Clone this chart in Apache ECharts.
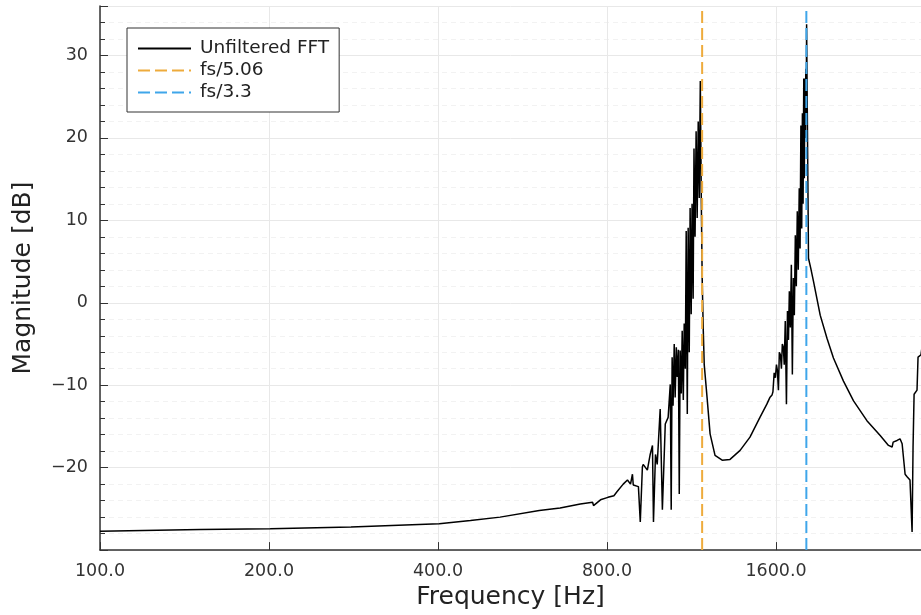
<!DOCTYPE html>
<html>
<head>
<meta charset="utf-8">
<script src="https://cdn.jsdelivr.net/npm/echarts@6.0.0/dist/echarts.min.js"></script>
<style>
  html, body { margin: 0; padding: 0; background: #fff; }
  #chart { width: 921px; height: 615px; }
</style>
</head>
<body>
<div id="chart"></div>
<script>
// spectrum (Hz, dB); each line of freqHz pairs with the same line of magDb
var freqHz = [
  100, 151, 201, 280, 402, 457, 516, 606, 660, 717, 754, 757,
  779, 803, 823, 834, 855, 870, 881, 888, 891, 910, 917, 925, 928, 944, 955, 964, 968, 976, 983, 995, 1004, 1016, 1028, 1037,
  1041, 1045, 1049, 1054, 1058, 1063, 1067, 1072, 1076, 1080, 1085, 1089, 1094, 1098, 1103, 1107, 1112, 1116, 1121, 1125, 1130, 1134, 1139, 1143, 1148, 1153, 1158, 1163, 1168, 1173, 1178,
  1182, 1187, 1192, 1206, 1221, 1246, 1283, 1325, 1381, 1438, 1498, 1541,
  1560, 1574, 1580, 1588, 1596, 1603, 1609, 1616, 1622, 1629, 1636, 1642, 1649, 1655, 1662, 1670, 1677, 1684, 1690, 1697, 1704, 1711, 1718, 1725, 1732, 1739, 1746, 1753, 1760, 1766, 1772, 1778, 1783, 1788, 1793, 1797, 1801, 1805, 1808, 1811, 1814,
  1828, 1845, 1866, 1918, 1972, 2025, 2110, 2199, 2323, 2453, 2538, 2576, 2587, 2629, 2661, 2684, 2717, 2739, 2772, 2796, 2807, 2819, 2853, 2865, 2900, 2930
];
var magDb = [
  -27.7, -27.5, -27.4, -27.2, -26.8, -26.4, -26.0, -25.2, -24.9, -24.4, -24.2, -24.6,
  -23.9, -23.6, -23.4, -22.9, -22.0, -21.5, -22.0, -20.8, -22.1, -22.3, -26.6, -19.9, -19.6, -20.3, -18.4, -17.3, -26.6, -18.4, -19.6, -12.9, -25.1, -14.7, -13.9, -9.9,
  -25.1, -6.6, -12.5, -5.0, -11.5, -5.4, -9.0, -5.7, -23.2, -5.8, -11.0, -3.4, -11.8, -2.5, -8.0, 8.7, -13.5, 9.1, -6.0, 11.5, -1.4, 12.0, 0.5, 18.7, 8.0, 20.8, 10.3, 22.0, 12.7, 26.9, 12.0,
  3.0, -3.0, -7.5, -11.5, -15.9, -18.5, -19.1, -19.0, -17.9, -16.3, -13.9, -12.3,
  -11.5, -11.2, -10.8, -8.5, -9.1, -7.5, -8.2, -10.6, -6.0, -6.3, -8.0, -5.0, -5.4, -7.5, -2.2, -12.3, -1.0, -4.5, 1.4, -3.0, 4.6, -8.7, 3.0, -1.5, 8.2, 2.0, 11.1, 4.0, 13.9, 6.6, 21.5, 9.0, 23.0, 12.0, 27.2, 15.1, 27.2, 20.0, 28.4, 22.0, 33.8,
  5.4, 4.2, 2.6, -1.5, -4.3, -6.7, -9.5, -11.9, -14.3, -16.1, -17.3, -17.5, -16.9, -16.7, -16.5, -17.1, -20.8, -21.1, -21.5, -27.8, -17.5, -11.1, -10.6, -6.6, -6.3, -4.0
];

// sampling rate and the two marker lines
var fs = 5980;
var markerDiv = [5.06, 3.3];
var markerNames = ['fs/5.06', 'fs/3.3'];
var markerColors = ['#eeab3c', '#3fa6ea'];

var fMin = 100, fMax = 2900;   // x range, ticks every octave from 100
var yMin = -30, yMax = 36;

var font = 'DejaVu Sans';
function u(f) { return Math.log2(f / fMin); }

var spectrum = freqHz.map(function (f, i) { return [u(f), magDb[i]]; });

var series = [{
  name: 'Unfiltered FFT',
  type: 'line',
  data: spectrum,
  symbol: 'none',
  lineStyle: { color: '#000', width: 1.5 },
  itemStyle: { color: '#000' },
  z: 3
}];
markerDiv.forEach(function (d, i) {
  var x = u(fs / d);
  series.push({
    name: markerNames[i],
    type: 'line',
    data: [[x, yMin], [x, 35.5]],
    symbol: 'none',
    lineStyle: { color: markerColors[i], width: 2, type: [12, 5] },
    itemStyle: { color: markerColors[i] },
    z: 4 + i
  });
});

var chart = echarts.init(document.getElementById('chart'));
chart.setOption({
  animation: false,
  backgroundColor: '#fff',
  textStyle: { fontFamily: font },
  grid: { left: 100, right: 0, top: 6, bottom: 58 },
  legend: {
    orient: 'vertical',
    left: 127,
    top: 28,
    data: ['Unfiltered FFT', 'fs/5.06', 'fs/3.3'],
    itemWidth: 53,
    itemHeight: 14,
    itemGap: 3,
    padding: [11, 10, 10, 10],
    borderColor: '#333',
    borderWidth: 1,
    backgroundColor: '#fff',
    itemStyle: { opacity: 0, borderWidth: 0 },
    textStyle: { fontFamily: font, fontSize: 18.5, color: '#222', padding: [0, 0, 0, 4] }
  },
  xAxis: {
    type: 'value',
    min: 0,
    max: u(fMax),
    interval: 1,
    name: 'Frequency [Hz]',
    nameLocation: 'middle',
    nameGap: 34,
    nameTextStyle: { fontFamily: font, fontSize: 25, color: '#222' },
    axisLine: { onZero: false, lineStyle: { color: '#333', width: 1.5 } },
    axisTick: { inside: true, length: 8, lineStyle: { color: '#333' } },
    axisLabel: {
      showMaxLabel: false,
      margin: 12,
      fontFamily: font,
      fontSize: 17.5,
      color: '#333',
      formatter: function (v) { return (fMin * Math.pow(2, v)).toFixed(1); }
    },
    splitLine: { show: true, lineStyle: { color: '#e8e8e8', width: 1 } }
  },
  yAxis: {
    type: 'value',
    min: yMin,
    max: yMax,
    interval: 10,
    name: 'Magnitude [dB]',
    nameLocation: 'middle',
    nameGap: 64,
    nameTextStyle: { fontFamily: font, fontSize: 25, color: '#222' },
    axisLine: { show: true, onZero: false, lineStyle: { color: '#333', width: 1.5 } },
    axisTick: { inside: true, length: 8, lineStyle: { color: '#333' } },
    minorTick: { show: true, splitNumber: 5, length: 5, lineStyle: { color: '#333' } },
    axisLabel: {
      showMinLabel: false,
      showMaxLabel: false,
      margin: 12,
      fontFamily: font,
      fontSize: 17.5,
      color: '#333',
      formatter: function (v) { return String(v).replace('-', '\u2212'); }
    },
    splitLine: { show: true, lineStyle: { color: '#e8e8e8', width: 1 } },
    minorSplitLine: { show: true, lineStyle: { color: '#f2f2f2', width: 1, type: [5, 4] } }
  },
  series: series
});
</script>
</body>
</html>
